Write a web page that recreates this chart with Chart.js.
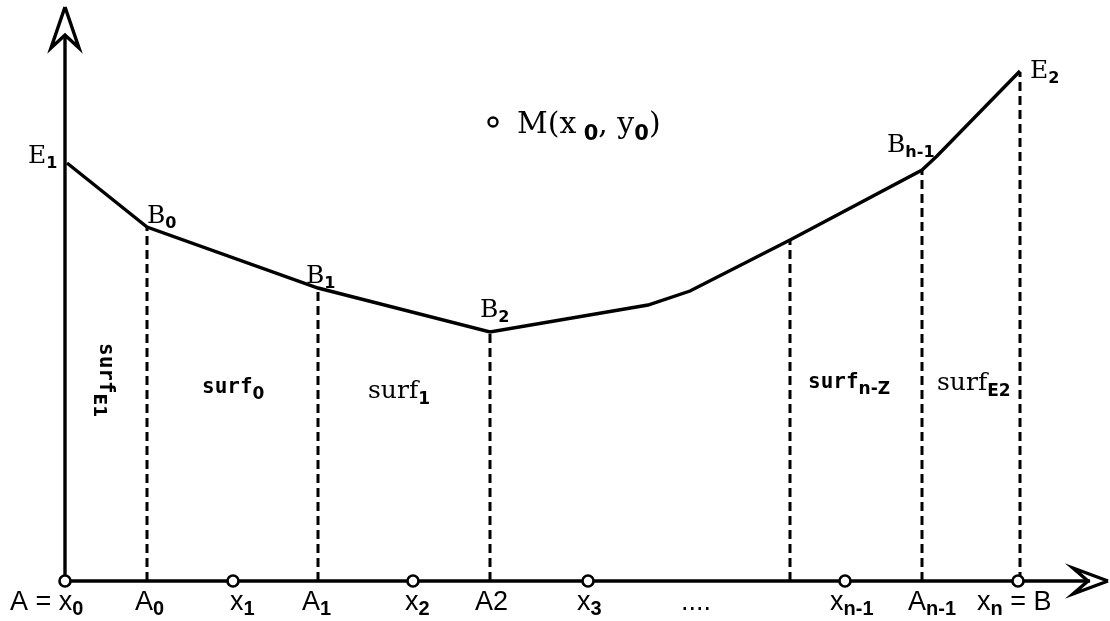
<!DOCTYPE html>
<html><head><meta charset="utf-8">
<script src="https://cdn.jsdelivr.net/npm/chart.js@4/dist/chart.umd.min.js"></script>
<style>html,body{margin:0;padding:0;background:#fff}canvas{display:block}</style>
</head><body>
<canvas id="c" width="1110" height="621"></canvas>
<script>
// ---- data (diagram units: x to the right of the y-axis, y above the x-axis) ----
const curveX = [2, 82, 253, 425, 583, 625, 725, 857, 872, 955];
const curveY = [418, 354, 293, 249, 276, 290, 341, 411, 425, 510];
const dashX = [82, 253, 425, 725, 857, 955];
const dashTop = [354, 293, 249, 341, 411, 509];
const nodeX = [0, 168, 348, 523, 780, 953];
const pointMX = [428];
const pointMY = [459];
const xAxisEnd = 1043;
const yAxisEnd = 574;

// labels
const curveLabelText = [['E','1'],['B','0'],['B','1'],['B','2'],['B','h-1'],['E','2']];
const curveLabelX = [-37, 82, 241, 415, 822, 965];
const curveLabelY = [418, 358, 298, 264, 429, 503];
const mLabel = ['M(x',' 0',', y','0',')'];
const mLabelPos = [452, 448];
const axisLabelText = [['A = x','0'],['A','0'],['x','1'],['A','1'],['x','2'],['A2'],['x','3'],['....'],['x','n-1'],['A','n-1'],['x','n',' = B']];
const axisLabelX = [-55, 70, 165, 237, 340, 410, 512, 616, 765, 843, 912];
const axisLabelY = -29;
const surfText = [['surf','E1'],['surf','0'],['surf','1'],['surf','n-Z'],['surf','E2']];
const surfX = [35, 137, 303, 743, 872];
const surfY = [238, 188, 183, 193, 191];
const surfRotated = [true, false, false, false, false];
const surfMono = [true, true, false, true, false];

// ---- datasets built from the arrays ----
const black = '#000';
const LW = 3.4;
const datasets = [];
datasets.push({ data: nodeX.map(x => ({x, y: 0})), showLine: false, pointRadius: 5.5,
  pointBorderWidth: 2.6, pointBackgroundColor: '#fff', pointBorderColor: black, order: 0 });
datasets.push({ data: pointMX.map((x,i) => ({x, y: pointMY[i]})), showLine: false, pointRadius: 4.5,
  pointBorderWidth: 2.4, pointBackgroundColor: '#fff', pointBorderColor: black, order: 0 });
datasets.push({ data: curveX.map((x,i) => ({x, y: curveY[i]})), showLine: true, borderColor: black,
  borderWidth: LW, pointRadius: 0, tension: 0, order: 2 });
dashX.forEach((x,i) => datasets.push({ data: [{x, y: 0}, {x, y: dashTop[i]}], showLine: true,
  borderColor: black, borderWidth: 3, borderDash: [9, 5], pointRadius: 0, order: 3 }));
// axes
datasets.push({ data: [{x: 0, y: 0}, {x: 0, y: yAxisEnd - 28}], showLine: true, borderColor: black,
  borderWidth: LW, pointRadius: 0, order: 4 });
datasets.push({ data: [{x: 0, y: 0}, {x: xAxisEnd - 18, y: 0}], showLine: true, borderColor: black,
  borderWidth: LW, pointRadius: 0, order: 4 });
// arrow heads (open chevrons)
datasets.push({ data: [{x: 0, y: yAxisEnd}, {x: -14, y: yAxisEnd - 41}, {x: 0, y: yAxisEnd - 28},
  {x: 14, y: yAxisEnd - 41}, {x: 0, y: yAxisEnd}], showLine: true, borderColor: black,
  borderWidth: LW, pointRadius: 0, borderJoinStyle: 'miter', order: 4 });
datasets.push({ data: [{x: xAxisEnd, y: 0}, {x: xAxisEnd - 35, y: 13}, {x: xAxisEnd - 20, y: 0},
  {x: xAxisEnd - 35, y: -13}, {x: xAxisEnd, y: 0}], showLine: true, borderColor: black,
  borderWidth: LW, pointRadius: 0, borderJoinStyle: 'miter', order: 4 });

function drawRich(ctx, x, y, parts, mainFont, subFont, subDy) {
  let cx = x;
  parts.forEach((p, i) => {
    const sub = i % 2 === 1;
    ctx.font = sub ? subFont : mainFont;
    ctx.fillText(p, cx, y + (sub ? subDy : 0));
    cx += ctx.measureText(p).width;
  });
}

const labelPlugin = {
  id: 'labels',
  afterDatasetsDraw(chart) {
    const ctx = chart.ctx, xs = chart.scales.x, ys = chart.scales.y;
    ctx.save();
    ctx.fillStyle = black;
    ctx.textBaseline = 'alphabetic';
    ctx.textAlign = 'left';
    const serif = '25px "DejaVu Serif"';
    const subS = 'bold 16px "DejaVu Sans"';
    curveLabelText.forEach((parts, i) => {
      drawRich(ctx, xs.getPixelForValue(curveLabelX[i]), ys.getPixelForValue(curveLabelY[i]),
        parts, serif, subS, 5);
    });
    drawRich(ctx, xs.getPixelForValue(mLabelPos[0]), ys.getPixelForValue(mLabelPos[1]),
      mLabel, '30px "DejaVu Serif"', 'bold 21px "DejaVu Sans"', 7);
    axisLabelText.forEach((parts, i) => {
      drawRich(ctx, xs.getPixelForValue(axisLabelX[i]), ys.getPixelForValue(axisLabelY),
        parts, '27px "Liberation Sans"', 'bold 20px "Liberation Sans"', 5);
    });
    surfText.forEach((parts, i) => {
      const px = xs.getPixelForValue(surfX[i]), py = ys.getPixelForValue(surfY[i]);
      const mf = surfMono[i] ? 'bold 21px "DejaVu Sans Mono"' : '25px "DejaVu Serif"';
      const sf = 'bold 17px "DejaVu Sans"';
      if (surfRotated[i]) {
        ctx.save(); ctx.translate(px, py); ctx.rotate(Math.PI / 2);
        drawRich(ctx, 0, 0, parts, mf, sf, 6);
        ctx.restore();
      } else {
        drawRich(ctx, px, py, parts, mf, sf, 6);
      }
    });
    ctx.restore();
  }
};

new Chart(document.getElementById('c'), {
  type: 'scatter',
  data: { datasets },
  options: {
    responsive: false, animation: false, devicePixelRatio: 1,
    layout: { padding: 0, autoPadding: false },
    plugins: { legend: { display: false }, tooltip: { enabled: false } },
    scales: {
      x: { type: 'linear', min: -65, max: 1045, display: false },
      y: { type: 'linear', min: -40, max: 581, display: false }
    }
  },
  plugins: [labelPlugin]
});
</script>
</body></html>
